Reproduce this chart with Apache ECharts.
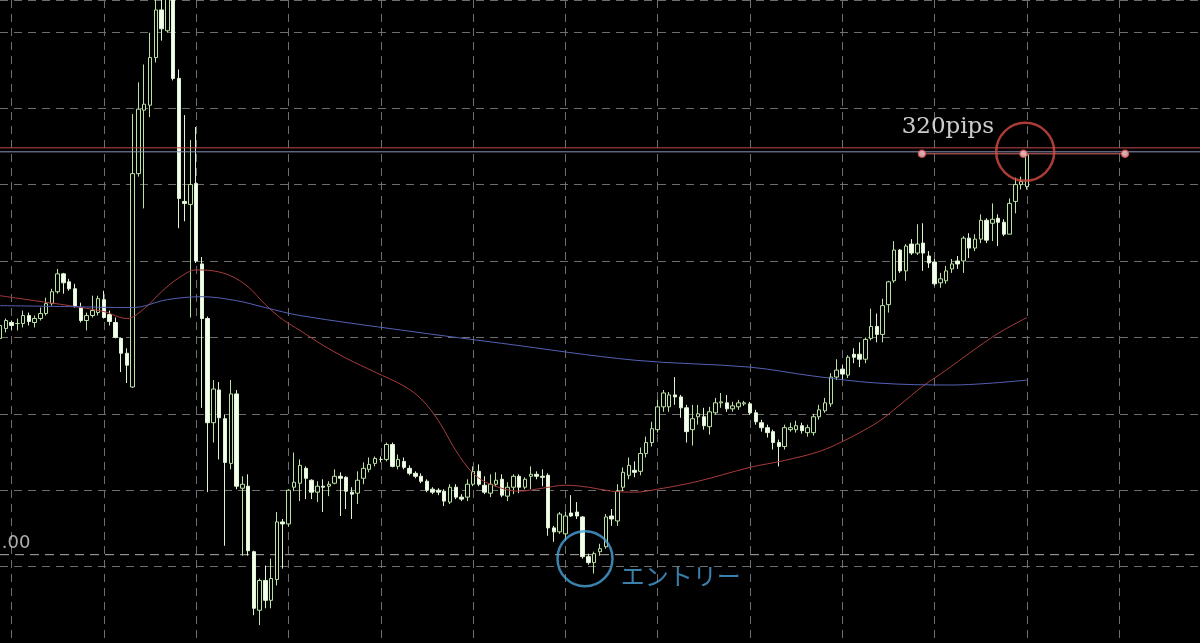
<!DOCTYPE html>
<html>
<head>
<meta charset="utf-8">
<script src="https://cdn.jsdelivr.net/npm/echarts@6/dist/echarts.min.js"></script>
<style>
html,body{margin:0;padding:0;background:#000;}
#chart{width:1200px;height:643px;}
</style>
</head>
<body>
<div id="chart"></div>
<script>
// ---- data (price units) ----
// candles: [open, close, low, high]
const ohlc = [
[113.18,113.31,113.15,113.34],[113.28,113.36,113.24,113.38],[113.34,113.31,113.26,113.36],[113.33,113.33,113.26,113.38],
[113.33,113.41,113.29,113.46],[113.41,113.35,113.31,113.44],[113.34,113.38,113.29,113.41],[113.38,113.43,113.36,113.49],
[113.43,113.53,113.41,113.59],[113.53,113.65,113.51,113.68],[113.65,113.83,113.63,113.88],[113.83,113.74,113.63,113.84],
[113.75,113.68,113.66,113.78],[113.68,113.50,113.49,113.73],[113.49,113.36,113.34,113.54],[113.36,113.41,113.26,113.44],
[113.41,113.46,113.39,113.61],[113.44,113.58,113.41,113.61],[113.57,113.39,113.38,113.66],[113.42,113.35,113.31,113.46],
[113.34,113.19,113.18,113.39],[113.18,113.03,112.84,113.19],[113.03,112.91,112.73,113.08],[112.69,114.84,112.68,115.44],
[114.84,115.49,114.81,115.76],[115.48,115.54,114.49,115.94],[115.53,116.01,115.41,116.26],[116.01,116.49,115.96,116.76],
[116.49,116.30,116.18,116.66],[116.28,116.66,116.26,116.96],[116.76,115.80,115.78,117.01],[115.80,114.59,114.29,115.89],
[114.56,114.54,114.36,115.43],[114.53,114.73,113.39,115.18],[114.74,113.96,113.94,115.31],[113.93,113.38,112.48,114.00],
[113.38,112.33,111.63,113.40],[112.33,112.67,112.13,112.76],[112.66,112.38,111.96,112.74],[112.37,111.93,111.09,112.41],
[111.92,112.62,111.86,112.76],[112.62,111.69,111.66,112.66],[111.67,111.71,110.99,111.79],[111.69,111.04,110.99,111.81],
[111.03,110.46,110.39,111.04],[110.44,110.74,110.29,110.76],[110.74,110.54,110.46,110.89],[110.54,110.76,110.46,110.96],
[110.75,111.33,110.69,111.43],[111.33,111.31,110.86,111.36],[111.31,111.65,111.28,111.66],[111.68,111.73,111.64,112.03],
[111.72,111.90,111.54,111.96],[111.87,111.77,111.56,111.89],[111.75,111.63,111.56,111.76],[111.63,111.69,111.53,111.74],
[111.69,111.68,111.43,111.76],[111.69,111.71,111.59,111.74],[111.72,111.79,111.71,111.86],[111.79,111.77,111.39,111.83],
[111.78,111.64,111.46,111.79],[111.63,111.61,111.36,111.68],[111.62,111.75,111.51,111.84],[111.77,111.87,111.71,111.93],
[111.86,111.91,111.83,111.98],[111.92,111.97,111.89,111.99],[111.96,111.96,111.93,111.99],[111.96,112.11,111.94,112.13],
[112.11,111.89,111.88,112.13],[111.89,111.96,111.86,112.01],[111.94,111.88,111.86,111.98],[111.87,111.82,111.80,111.90],
[111.82,111.79,111.77,111.84],[111.79,111.74,111.72,111.82],[111.74,111.65,111.63,111.76],[111.66,111.63,111.61,111.68],
[111.65,111.63,111.60,111.67],[111.64,111.54,111.49,111.66],[111.53,111.68,111.51,111.71],[111.68,111.58,111.56,111.71],
[111.58,111.56,111.54,111.61],[111.58,111.71,111.54,111.76],[111.71,111.84,111.69,111.89],[111.84,111.71,111.69,111.91],
[111.70,111.63,111.61,111.79],[111.62,111.71,111.58,111.81],[111.71,111.75,111.69,111.83],[111.76,111.60,111.58,111.81],
[111.59,111.68,111.54,111.73],[111.68,111.79,111.61,111.81],[111.79,111.68,111.62,111.81],[111.68,111.76,111.66,111.78],
[111.79,111.81,111.66,111.89],[111.81,111.79,111.76,111.84],[111.79,111.78,111.69,111.86],[111.80,111.27,111.19,111.82],
[111.27,111.23,111.13,111.29],[111.23,111.41,111.21,111.43],[111.21,111.39,111.14,111.43],[111.42,111.39,111.38,111.60],
[111.43,111.39,111.36,111.53],[111.38,110.98,110.96,111.39],[110.98,110.92,110.90,111.01],[110.92,111.01,110.81,111.03],
[111.03,111.06,110.99,111.11],[111.08,111.38,111.06,111.41],[111.39,111.36,111.29,111.46],[111.34,111.64,111.29,111.71],
[111.68,111.83,111.64,111.88],[111.80,111.90,111.76,111.98],[111.85,111.83,111.78,111.94],[111.84,112.02,111.80,112.08],
[112.02,112.13,111.98,112.19],[112.13,112.27,112.09,112.34],[112.26,112.49,112.23,112.56],[112.49,112.63,112.44,112.66],
[112.49,112.61,112.44,112.64],[112.61,112.59,112.51,112.79],[112.59,112.48,112.38,112.61],[112.48,112.24,112.13,112.51],
[112.26,112.37,112.10,112.51],[112.39,112.42,112.31,112.51],[112.39,112.30,112.26,112.48],[112.29,112.44,112.21,112.49],
[112.43,112.53,112.41,112.58],[112.53,112.54,112.48,112.63],[112.53,112.47,112.44,112.61],[112.47,112.50,112.44,112.54],
[112.49,112.53,112.46,112.56],[112.52,112.53,112.50,112.55],[112.52,112.43,112.41,112.54],[112.43,112.34,112.31,112.46],
[112.33,112.28,112.24,112.36],[112.28,112.23,112.18,112.31],[112.24,112.13,112.06,112.26],[112.13,112.09,111.89,112.16],
[112.09,112.28,112.06,112.31],[112.26,112.28,112.24,112.33],[112.26,112.30,112.23,112.35],[112.30,112.25,112.22,112.33],
[112.23,112.28,112.19,112.31],[112.23,112.39,112.20,112.42],[112.39,112.46,112.36,112.51],[112.45,112.53,112.43,112.58],
[112.52,112.79,112.49,112.83],[112.79,112.86,112.76,112.97],[112.87,112.82,112.76,112.91],[112.81,112.99,112.78,113.01],
[113.02,112.99,112.93,113.08],[113.02,112.97,112.89,113.14],[112.97,113.17,112.93,113.19],[113.18,113.30,113.16,113.48],
[113.30,113.22,113.14,113.43],[113.22,113.51,113.14,113.58],[113.52,113.75,113.44,113.76],[113.76,114.07,113.74,114.16],
[114.07,113.86,113.84,114.08],[113.86,114.11,113.76,114.13],[114.13,114.04,114.02,114.18],[114.04,114.13,114.02,114.33],
[114.14,114.04,113.86,114.34],[114.01,113.94,113.89,114.06],[113.95,113.73,113.71,113.98],[113.74,113.78,113.69,113.84],
[113.76,113.86,113.73,113.91],[113.88,113.93,113.84,113.98],[113.96,113.93,113.88,114.01],[113.96,114.19,113.84,114.21],
[114.19,114.09,113.99,114.24],[114.09,114.18,114.06,114.23],[114.18,114.37,114.14,114.43],[114.37,114.17,114.14,114.39],
[114.34,114.38,114.16,114.54],[114.39,114.35,114.11,114.43],[114.35,114.23,114.21,114.38],[114.23,114.54,114.23,114.59],
[114.56,114.73,114.44,114.80],[114.73,114.76,114.68,114.81],[114.71,115.03,114.68,115.04]
];
// number of bar slots shown across the window (rest is empty future space)
const slotCount = 209;
const categories = Array.from({length: slotCount}, (_, i) => String(i));

// moving averages: [bar index, value]
const maFast = [[0,113.61],[6,113.56],[12,113.51],[18,113.45],[22,113.38],[25,113.48],[28,113.65],[31,113.79],
[34,113.87],[37,113.86],[40,113.81],[43,113.70],[46,113.52],[49,113.37],[52,113.26],[56,113.11],[60,112.98],[65,112.84],[70,112.70],[73,112.57],[76,112.35],
[79,112.05],[82,111.82],[85,111.71],[90,111.64],[94,111.67],[98,111.70],[102,111.68],[106,111.64],[110,111.63],
[114,111.66],[121,111.74],[130,111.88],[136,111.95],[142,112.04],[146,112.14],[152,112.33],[156,112.51],
[160,112.70],[164,112.86],[168,113.03],[173,113.23],[178,113.39]];
const maSlow = [[0,113.51],[12,113.50],[23,113.49],[29,113.57],[35,113.60],[41,113.56],[46,113.49],[52,113.41],
[70,113.26],[87,113.13],[110,112.96],[130,112.89],[141,112.80],[152,112.73],[165,112.71],[178,112.76]];

// horizontal levels
const redLevel = 115.10;
const blueLevel = 115.06;
const entryLevel = 111.00;
const targetLevel = 115.04;
// trend line (x in bar units) and its three handles
const trendStart = 159.8, trendEnd = 195.0;
const trendHandles = [159.8, 177.4, 195.0];
// annotation rings [bar position, price]
const targetRing = [177.7, 115.06];
const entryRing = [101.4, 110.96];
// text annotations [bar position, price, text]
const pipsText = [164.3, 115.31, '320pips'];
const entryText = [118.0, 110.79, 'エントリー'];
const levelText = [2.8, 111.11, '.00'];

// y axis
const yMin = 110.11, yMax = 116.59, yStep = 0.77;

const chart = echarts.init(document.getElementById('chart'), null, {renderer: 'canvas'});

function textSeries(t, color, size, family, weight) {
  return {
    type: 'scatter', xAxisIndex: 1, symbolSize: 1, silent: true, z: 10,
    itemStyle: {color: 'rgba(0,0,0,0)'},
    label: {show: true, position: 'inside', formatter: t[2], color: color, fontSize: size,
      fontFamily: family, fontWeight: weight || 'normal'},
    data: [[t[0], t[1]]]
  };
}

chart.setOption({
  backgroundColor: '#000000',
  animation: false,
  grid: {left: -2, right: 0, top: -3, bottom: -2, containLabel: false},
  xAxis: [{
    type: 'category', data: categories, boundaryGap: false,
    axisLine: {show: false}, axisTick: {show: false}, axisLabel: {show: false},
    splitLine: {show: true, interval: (i) => i % 16 === 2,
      lineStyle: {color: '#6e6e6e', width: 1, type: [8, 6]}}
  }, {
    type: 'value', min: 0, max: slotCount - 1, show: false
  }],
  yAxis: {
    type: 'value', min: yMin, max: yMax, interval: yStep,
    axisLine: {show: false}, axisTick: {show: false}, axisLabel: {show: false},
    splitLine: {show: true, lineStyle: {color: '#6e6e6e', width: 1, type: [8, 6]}}
  },
  series: [
    {
      type: 'line', silent: true, symbol: 'none', z: 1,
      lineStyle: {color: '#b0b0b0', width: 1, type: [9, 6]},
      data: [[0, entryLevel], [slotCount - 1, entryLevel]]
    },
    {
      type: 'candlestick', data: ohlc, barWidth: 4, z: 3,
      itemStyle: {
        color: '#000000', borderColor: '#b9e2a3',
        color0: '#f4fff0', borderColor0: '#dff5d2', borderWidth: 1
      }
    },
    {
      type: 'line', data: maFast, smooth: 0.35, symbol: 'none', z: 4,
      lineStyle: {color: '#a83c3c', width: 1}
    },
    {
      type: 'line', data: maSlow, smooth: 0.35, symbol: 'none', z: 4,
      lineStyle: {color: '#5560b4', width: 1}
    },
    {
      type: 'line', silent: true, symbol: 'none', z: 5,
      lineStyle: {color: '#c04848', width: 1},
      data: [[0, redLevel], [slotCount - 1, redLevel]]
    },
    {
      type: 'line', silent: true, symbol: 'none', z: 5,
      lineStyle: {color: '#8e93bb', width: 1},
      data: [[0, blueLevel], [slotCount - 1, blueLevel]]
    },
    {
      type: 'line', xAxisIndex: 1, silent: true, symbol: 'none', z: 6,
      lineStyle: {color: '#e06666', width: 1},
      data: [[trendStart, targetLevel], [trendEnd, targetLevel]]
    },
    {
      type: 'scatter', xAxisIndex: 1, silent: true, z: 7, symbolSize: 7,
      itemStyle: {color: '#ffd0d0', borderColor: '#e05a5a', borderWidth: 1.5},
      data: trendHandles.map(x => [x, targetLevel])
    },
    {
      type: 'scatter', xAxisIndex: 1, silent: true, z: 8, symbolSize: 58,
      itemStyle: {color: 'rgba(0,0,0,0)', borderColor: '#d44a44', borderWidth: 2.5},
      data: [targetRing]
    },
    {
      type: 'scatter', xAxisIndex: 1, silent: true, z: 8, symbolSize: 55,
      itemStyle: {color: 'rgba(0,0,0,0)', borderColor: '#4aa3d8', borderWidth: 2.5},
      data: [entryRing]
    },
    textSeries(pipsText, '#ffffff', 23, '"DejaVu Serif", serif'),
    textSeries(entryText, '#4a9fd6', 24, '"Noto Sans CJK JP", sans-serif'),
    textSeries(levelText, '#d8d8d8', 18, '"DejaVu Sans", sans-serif')
  ]
});
</script>
</body>
</html>
